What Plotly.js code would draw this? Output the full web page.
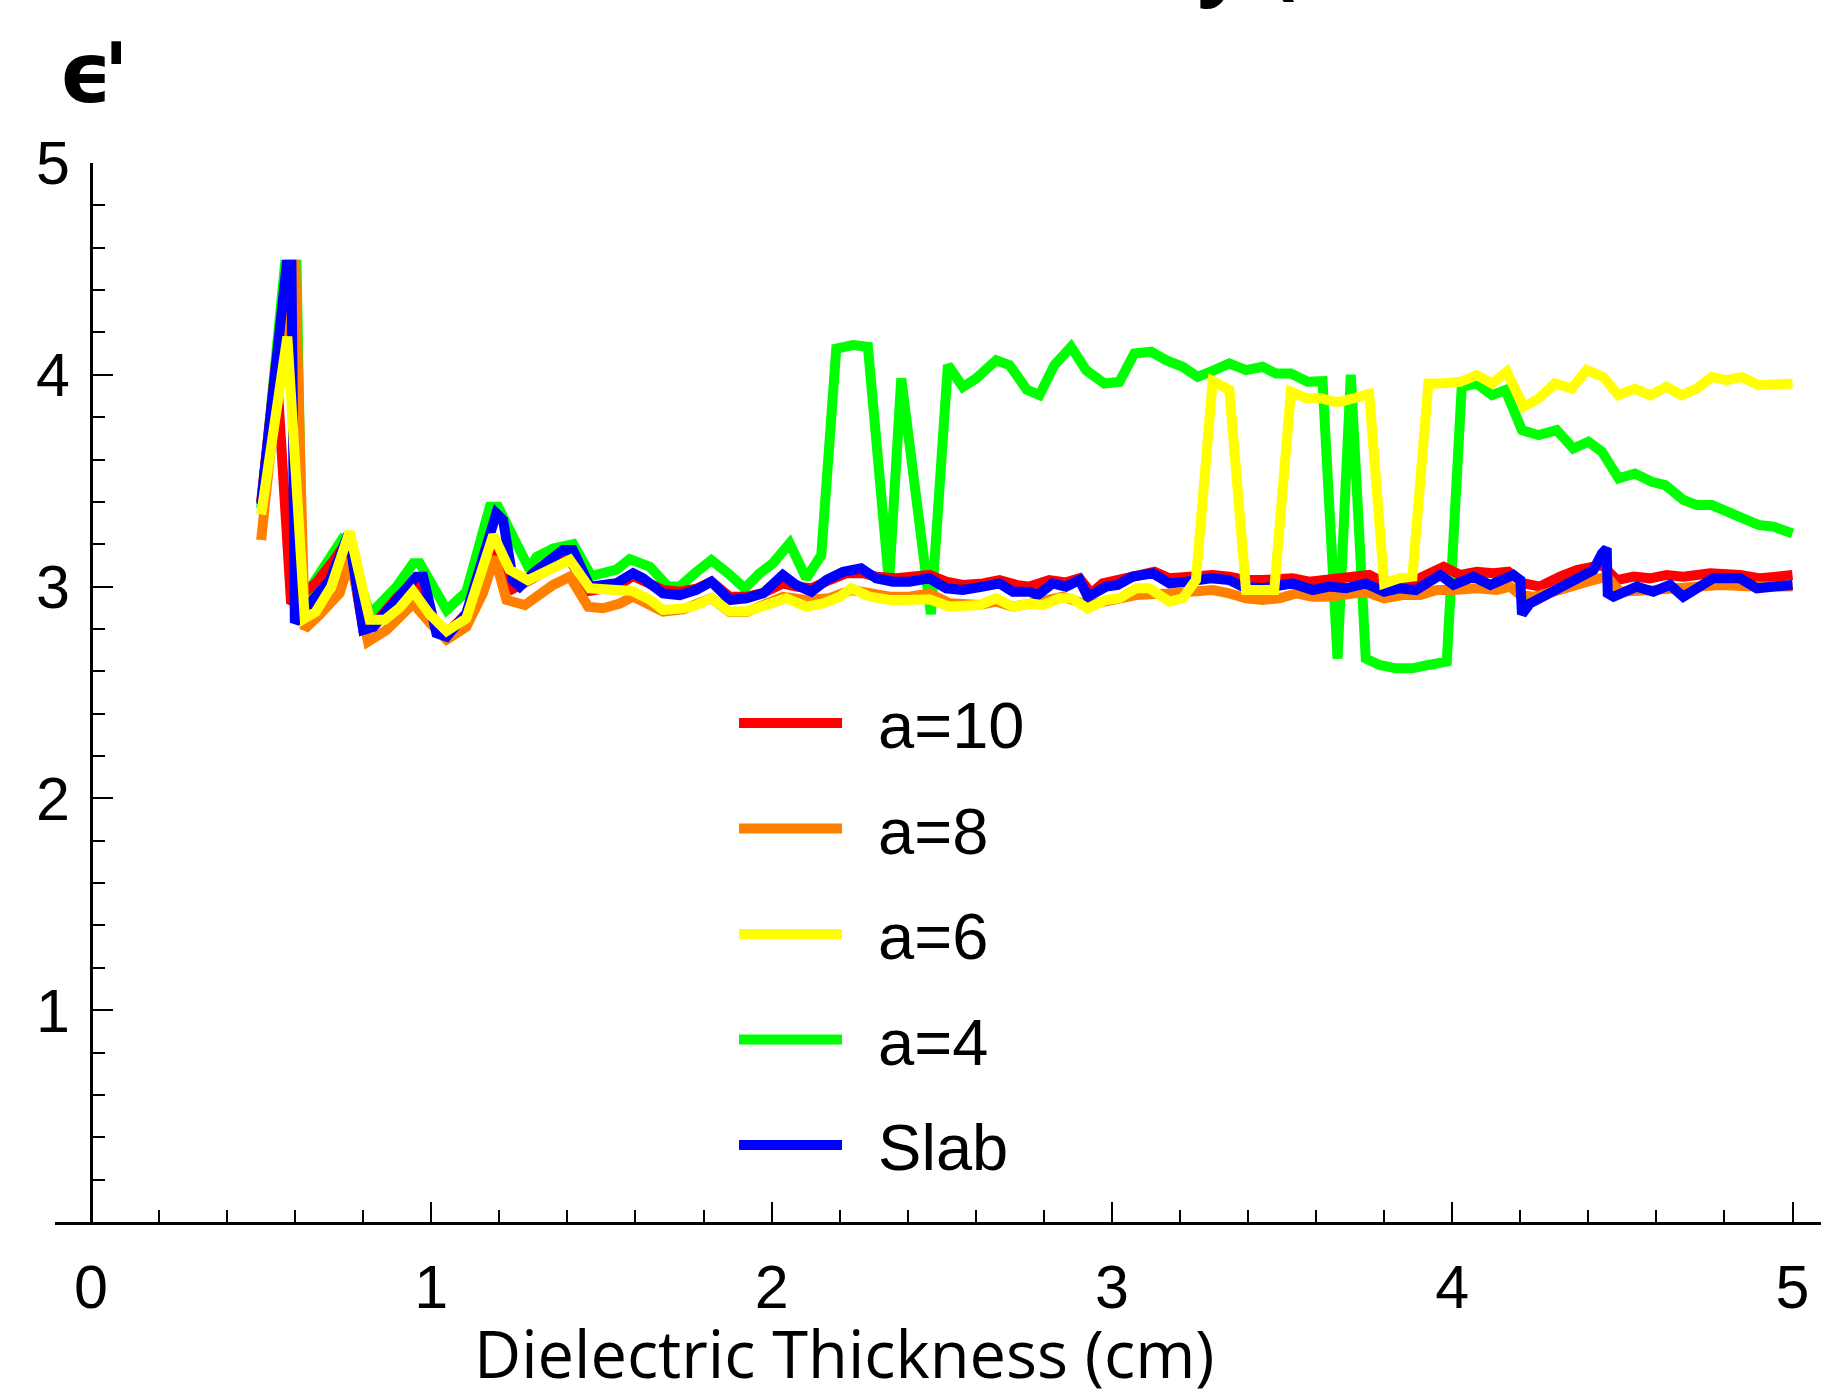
<!DOCTYPE html>
<html>
<head>
<meta charset="utf-8">
<script src="https://cdn.plot.ly/plotly-3.0.1.min.js"></script>
<style>
html,body{margin:0;padding:0;background:#fff;}
#chart{width:1821px;height:1392px;}
</style>
</head>
<body>
<div id="chart"></div>
<script>
// ---- data ----
const seriesNames = ["a=10", "a=8", "a=6", "a=4", "Slab"];
const seriesColors = ["#FF0000", "#FF8000", "#FFFF00", "#00FF00", "#0000FF"];

const xA10 = [0.5,0.544,0.588,0.614,0.663,0.712,0.755,0.8,0.83,0.9,0.956,1.005,1.045,1.103,1.182,1.24,1.3,1.4,1.466,1.544,1.593,1.681,1.73,1.779,1.823,1.877,1.926,1.975,2.033,2.072,2.117,2.17,2.219,2.268,2.307,2.366,2.425,2.464,2.513,2.562,2.621,2.67,2.719,2.758,2.816,2.865,2.905,2.939,2.973,3.022,3.071,3.125,3.169,3.247,3.296,3.345,3.394,3.443,3.531,3.58,3.639,3.698,3.756,3.805,3.854,3.893,3.93,3.975,4.024,4.072,4.121,4.165,4.21,4.258,4.317,4.366,4.415,4.44,4.484,4.533,4.581,4.63,4.679,4.758,4.846,4.905,4.954,5.0];
const yA10 = [3.40,4.06,2.92,2.95,3.02,3.12,3.22,2.80,2.82,2.95,3.03,2.84,2.78,2.87,3.17,2.99,3.04,3.14,2.98,3.00,3.05,2.984,2.976,2.99,3.023,2.952,2.952,2.97,3.015,3.0,2.992,3.031,3.063,3.063,3.047,3.039,3.047,3.055,3.023,3.008,3.015,3.031,3.008,3.0,3.031,3.02,3.039,2.968,3.015,3.031,3.055,3.07,3.039,3.047,3.055,3.047,3.031,3.031,3.039,3.023,3.031,3.039,3.055,3.015,3.023,3.031,3.06,3.094,3.055,3.07,3.063,3.07,3.015,3.0,3.047,3.078,3.094,3.102,3.031,3.047,3.039,3.055,3.047,3.063,3.055,3.039,3.047,3.055];

const xA8 = [0.5,0.585,0.6,0.628,0.673,0.731,0.761,0.814,0.868,0.907,0.947,0.995,1.045,1.103,1.152,1.186,1.221,1.275,1.358,1.407,1.461,1.505,1.554,1.593,1.642,1.681,1.74,1.823,1.877,1.926,1.975,2.033,2.102,2.17,2.234,2.288,2.347,2.405,2.464,2.523,2.611,2.66,2.709,2.758,2.856,2.929,3.002,3.071,3.169,3.247,3.296,3.345,3.394,3.443,3.492,3.541,3.59,3.639,3.688,3.746,3.8,3.854,3.906,3.955,4.004,4.072,4.131,4.17,4.2,4.239,4.298,4.356,4.415,4.454,4.493,4.591,4.689,4.787,4.885,5.0];
const yA8 = [3.22,4.52,4.52,2.80,2.87,2.97,3.13,2.74,2.795,2.86,2.92,2.83,2.75,2.81,2.97,3.14,2.937,2.913,3.008,3.047,2.905,2.898,2.92,2.953,2.92,2.882,2.893,2.945,2.88,2.88,2.913,2.952,2.937,2.945,2.984,2.968,2.952,2.952,2.968,2.921,2.913,2.929,2.905,2.92,2.952,2.913,2.937,2.96,2.968,2.976,2.984,2.968,2.945,2.937,2.945,2.968,2.952,2.952,2.96,2.976,2.945,2.96,2.96,2.984,2.984,2.992,2.984,3.0,2.96,2.952,2.976,3.008,3.031,3.047,2.976,2.984,3.0,3.008,3.0,3.0];

const xA6 = [0.5,0.577,0.628,0.66,0.706,0.76,0.819,0.863,0.907,0.947,0.995,1.045,1.103,1.182,1.23,1.284,1.407,1.466,1.544,1.59,1.64,1.681,1.74,1.779,1.823,1.877,1.926,1.975,2.043,2.102,2.151,2.2,2.234,2.288,2.347,2.396,2.464,2.523,2.611,2.66,2.709,2.758,2.797,2.846,2.88,2.929,2.983,3.022,3.071,3.11,3.169,3.208,3.247,3.296,3.345,3.394,3.477,3.526,3.57,3.61,3.663,3.712,3.756,3.8,3.844,3.883,3.93,3.97,4.023,4.072,4.117,4.16,4.21,4.254,4.302,4.351,4.395,4.444,4.488,4.537,4.581,4.63,4.674,4.719,4.763,4.807,4.851,4.9,4.949,5.0];
const yA6 = [3.34,4.18,2.85,2.88,3.0,3.26,2.843,2.843,2.90,2.976,2.87,2.79,2.85,3.244,3.08,3.03,3.126,2.992,2.984,2.98,2.94,2.89,2.897,2.913,2.945,2.882,2.882,2.905,2.945,2.905,2.921,2.952,2.992,2.952,2.937,2.937,2.94,2.905,2.913,2.945,2.905,2.92,2.913,2.945,2.945,2.897,2.937,2.945,2.992,2.992,2.929,2.945,3.031,3.97,3.93,2.984,2.984,3.92,3.89,3.89,3.87,3.89,3.91,3.015,3.039,3.047,3.959,3.959,3.967,3.998,3.959,4.014,3.849,3.888,3.959,3.935,4.022,3.99,3.904,3.935,3.904,3.943,3.904,3.935,3.99,3.975,3.99,3.951,3.959,3.959];

const xA4 = [0.5,0.57,0.604,0.622,0.643,0.712,0.745,0.82,0.898,0.947,0.966,1.045,1.103,1.172,1.196,1.289,1.309,1.358,1.417,1.47,1.544,1.583,1.642,1.696,1.73,1.774,1.823,1.872,1.921,1.965,2.004,2.053,2.102,2.146,2.19,2.239,2.283,2.345,2.381,2.468,2.518,2.562,2.601,2.66,2.699,2.75,2.787,2.831,2.88,2.924,2.978,3.022,3.066,3.115,3.159,3.208,3.252,3.301,3.345,3.394,3.443,3.482,3.526,3.575,3.619,3.663,3.702,3.746,3.786,3.835,3.883,3.93,3.984,4.028,4.072,4.117,4.156,4.205,4.254,4.307,4.356,4.4,4.44,4.489,4.537,4.586,4.626,4.679,4.719,4.763,4.807,4.856,4.9,4.944,5.0];
const yA4 = [3.37,4.52,4.52,2.93,2.99,3.17,3.24,2.87,3.0,3.11,3.11,2.89,2.975,3.377,3.377,3.08,3.14,3.18,3.2,3.05,3.08,3.13,3.094,3.0,3.0,3.063,3.125,3.063,2.992,3.063,3.11,3.204,3.039,3.149,4.124,4.14,4.132,3.02,3.983,2.87,4.046,3.943,3.983,4.069,4.046,3.93,3.904,4.046,4.132,4.022,3.959,3.967,4.101,4.109,4.069,4.038,3.99,4.022,4.054,4.022,4.038,4.006,4.006,3.967,3.97,2.66,4.0,2.66,2.63,2.614,2.614,2.63,2.646,3.943,3.959,3.904,3.928,3.739,3.715,3.739,3.652,3.684,3.637,3.511,3.534,3.495,3.479,3.409,3.385,3.385,3.354,3.33,3.291,3.283,3.251];

const xSlab = [0.5,0.575,0.589,0.599,0.643,0.702,0.757,0.8,0.83,0.9,0.956,0.976,1.015,1.045,1.103,1.191,1.211,1.24,1.26,1.299,1.387,1.416,1.466,1.544,1.593,1.622,1.681,1.73,1.779,1.823,1.877,1.926,1.975,2.033,2.072,2.117,2.161,2.21,2.263,2.307,2.356,2.405,2.464,2.513,2.562,2.621,2.67,2.709,2.758,2.782,2.826,2.865,2.905,2.929,2.983,3.017,3.061,3.12,3.169,3.218,3.267,3.291,3.345,3.384,3.443,3.482,3.531,3.59,3.639,3.688,3.746,3.8,3.844,3.893,3.932,3.965,4.004,4.063,4.112,4.18,4.2,4.205,4.229,4.278,4.317,4.366,4.415,4.44,4.454,4.457,4.474,4.542,4.591,4.64,4.679,4.767,4.846,4.895,4.944,4.988,5.0];
const ySlab = [3.39,4.52,4.52,2.83,2.92,3.03,3.25,2.795,2.81,2.95,3.047,3.047,2.78,2.764,2.874,3.346,3.314,3.03,3.0,3.063,3.173,3.173,3.0,3.016,3.063,3.039,2.968,2.96,2.984,3.023,2.937,2.945,2.968,3.055,3.008,2.976,3.031,3.07,3.086,3.039,3.023,3.023,3.039,2.992,2.984,3.0,3.015,2.976,2.976,2.96,3.015,3.0,3.031,2.952,3.0,3.008,3.047,3.063,3.015,3.023,3.031,3.039,3.031,3.0,2.992,3.0,3.015,2.984,3.0,2.992,3.015,2.976,2.992,2.984,3.02,3.055,3.008,3.047,3.008,3.055,3.031,2.87,2.921,2.96,3.0,3.039,3.078,3.157,3.18,2.968,2.952,3.0,2.976,3.008,2.952,3.039,3.039,2.992,3.0,3.015,3.008];

const xTickVals = [0, 1, 2, 3, 4, 5];
const xTickText = ["0", "1", "2", "3", "4", "5"];
const yTickVals = [1, 2, 3, 4, 5];
const yTickText = ["1", "2", "3", "4", "5"];

// ---- traces (drawing order: a=4 bottom, then a=10, a=8, Slab, a=6 on top) ----
const xs = [xA10, xA8, xA6, xA4, xSlab];
const ys = [yA10, yA8, yA6, yA4, ySlab];
const drawOrder = [3, 0, 1, 4, 2];
const traces = drawOrder.map(i => ({
  type: "scatter",
  mode: "lines",
  x: xs[i],
  y: ys[i],
  name: "\u00a0\u2009" + seriesNames[i],
  legendgroup: "g" + i,
  legendrank: i + 1,
  line: {color: seriesColors[i], width: 10},
  hoverinfo: "skip"
}));

const layout = {
  width: 1821,
  height: 1392,
  margin: {l: 55, r: 0, t: 163, b: 170, pad: 0},
  paper_bgcolor: "#ffffff",
  plot_bgcolor: "#ffffff",
  font: {family: "Liberation Sans, Arial, sans-serif", color: "#000000"},
  showlegend: true,
  legend: {
    x: 0.3845, xanchor: "left",
    y: 0.5172, yanchor: "top",
    bgcolor: "rgba(0,0,0,0)",
    borderwidth: 0,
    font: {family: "Liberation Sans, Arial, sans-serif", size: 65, color: "#000"},
    itemwidth: 103,
    tracegroupgap: 18,
    traceorder: "grouped"
  },
  xaxis: {
    range: [-0.1058, 5.0837],
    showgrid: false,
    zeroline: false,
    showline: true,
    linecolor: "#000",
    linewidth: 3,
    ticks: "inside",
    ticklen: 20,
    tickwidth: 2,
    tickcolor: "#000",
    tickmode: "array",
    tickvals: xTickVals,
    ticktext: xTickText,
    tickfont: {family: "Liberation Sans, Arial, sans-serif", size: 61, color: "#000"},
    ticklabelstandoff: 10,
    minor: {dtick: 0.2, tick0: 0, ticks: "inside", ticklen: 12, tickwidth: 2, tickcolor: "#000", showgrid: false},
    fixedrange: true
  },
  yaxis: {
    range: [0, 5],
    anchor: "free",
    position: 0.0204,
    showgrid: false,
    zeroline: false,
    showline: true,
    linecolor: "#000",
    linewidth: 3,
    ticks: "inside",
    ticklen: 20,
    tickwidth: 2,
    tickcolor: "#000",
    tickmode: "array",
    tickvals: yTickVals,
    ticktext: yTickText,
    tickfont: {family: "Liberation Sans, Arial, sans-serif", size: 61, color: "#000"},
    ticklabelstandoff: 8,
    minor: {dtick: 0.2, tick0: 0, ticks: "inside", ticklen: 12, tickwidth: 2, tickcolor: "#000", showgrid: false},
    fixedrange: true
  },
  annotations: [
    {
      text: "Relative Permittivity (ϵ' vs Dielectric Thickness)",
      xref: "paper", yref: "paper",
      x: 0.176, xanchor: "left",
      y: 1.1388, yanchor: "bottom",
      showarrow: false,
      font: {family: "Open Sans", size: 85, weight: 700, color: "#000"}
    },
    {
      text: "<span style='letter-spacing:-9px'>ϵ</span>'",
      xref: "paper", yref: "paper",
      x: 0.001, xanchor: "left",
      y: 1.0368, yanchor: "bottom",
      showarrow: false,
      font: {family: "DejaVu Sans", size: 83, weight: 700, color: "#000"}
    },
    {
      text: "Dielectric Thickness (cm)",
      xref: "paper", yref: "paper",
      x: 0.447, xanchor: "center",
      y: -0.0807, yanchor: "top",
      showarrow: false,
      font: {family: "Open Sans", size: 65, color: "#000"}
    }
  ]
};

Plotly.newPlot("chart", traces, layout, {displayModeBar: false, staticPlot: true});
</script>
</body>
</html>
